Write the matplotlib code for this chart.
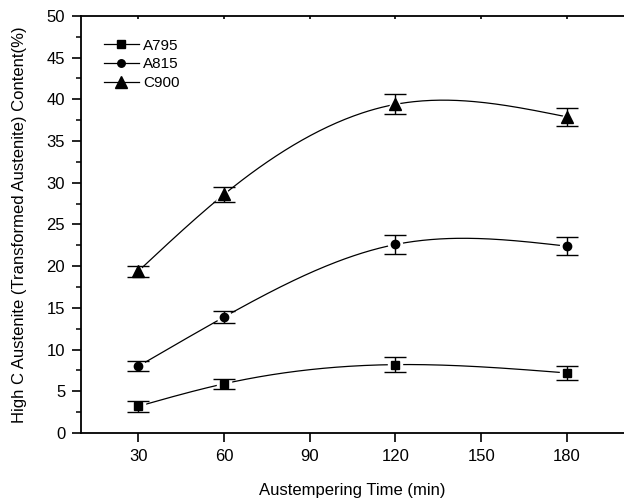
import numpy as np
import matplotlib
matplotlib.use("Agg")
import matplotlib.pyplot as plt
from matplotlib.ticker import MultipleLocator

plt.rcParams['font.family'] = ['Liberation Sans', 'DejaVu Sans']

# austempering time (min)
times = [30, 60, 120, 180]

# high C austenite content (%) and error half-widths
a795 = [3.2, 5.9, 8.2, 7.2]
a795_err = [0.65, 0.6, 0.9, 0.8]
a815 = [8.0, 13.9, 22.6, 22.4]
a815_err = [0.6, 0.7, 1.15, 1.1]
c900 = [19.4, 28.6, 39.4, 37.9]
c900_err = [0.65, 0.85, 1.2, 1.1]

series = [("A795", a795, a795_err, "s", 6),
          ("A815", a815, a815_err, "o", 6),
          ("C900", c900, c900_err, "^", 9)]


def smooth(x, y, n=200):
    # natural cubic spline through the points (origin style connector)
    x = np.asarray(x, float)
    y = np.asarray(y, float)
    k = len(x)
    h = np.diff(x)
    A = np.zeros((k, k))
    r = np.zeros(k)
    A[0, 0] = A[-1, -1] = 1
    for i in range(1, k - 1):
        A[i, i - 1] = h[i - 1]
        A[i, i] = 2 * (h[i - 1] + h[i])
        A[i, i + 1] = h[i]
        r[i] = 6 * ((y[i + 1] - y[i]) / h[i] - (y[i] - y[i - 1]) / h[i - 1])
    m = np.linalg.solve(A, r)
    xs = np.linspace(x[0], x[-1], n)
    ys = np.empty_like(xs)
    for j, t in enumerate(xs):
        i = min(np.searchsorted(x, t, side='right') - 1, k - 2)
        a = x[i + 1] - t
        b = t - x[i]
        ys[j] = (m[i] * a ** 3 / (6 * h[i]) + m[i + 1] * b ** 3 / (6 * h[i])
                 + (y[i] / h[i] - m[i] * h[i] / 6) * a
                 + (y[i + 1] / h[i] - m[i + 1] * h[i] / 6) * b)
    return xs, ys


fig = plt.figure(figsize=(6.24, 4.98), dpi=100)
ax = fig.add_axes([0.13, 0.1305, 0.87, 0.8375])

for name, vals, errs, mk, ms in series:
    xs, ys = smooth(times, vals)
    ax.plot(xs, ys, color="black", lw=0.9, zorder=1)
    # white halo so the curve stops short of each marker
    ax.plot(times, vals, ls="none", marker=mk, ms=ms + 4, color="white",
            mec="white", zorder=2)
    ax.errorbar(times, vals, yerr=errs, fmt="none", ecolor="black",
                elinewidth=1.0, capsize=8, capthick=1.0, zorder=3)
    ax.plot(times, vals, ls="none", marker=mk, ms=ms, color="black", zorder=4)
    ax.plot([], [], color="black", lw=0.9, marker=mk, ms=ms * 0.9, label=name)

ax.set_xlim(10, 200)
ax.set_ylim(0, 50)
ax.set_xticks([30, 60, 90, 120, 150, 180])
ax.yaxis.set_major_locator(MultipleLocator(5))
ax.yaxis.set_minor_locator(MultipleLocator(2.5))

ax.spines['right'].set_visible(False)
for s in ['left', 'bottom', 'top']:
    ax.spines[s].set_linewidth(1.3)

ax.tick_params(axis='both', which='major', direction='out', length=6.5,
               width=1.2, labelsize=12, pad=5)
ax.tick_params(axis='y', which='minor', direction='out', length=3.5, width=1.1)
ax.tick_params(axis='x', top=True, labeltop=False)
ax.tick_params(axis='x', which='major', top=True, direction='out')
ax.xaxis.set_tick_params(which='major', top=True)
for t in ax.xaxis.get_major_ticks():
    t.tick2line.set_markersize(2.5)
    t.tick2line.set_marker(3)  # pointing down into the plot

ax.set_xlabel("Austempering Time (min)", fontsize=12, labelpad=14)
ax.set_ylabel("High C Austenite (Transformed Austenite) Content(%)",
              fontsize=12, labelpad=14)

ax.legend(loc="upper left", frameon=False, fontsize=11, handlelength=2.3,
          handletextpad=0.3, labelspacing=0.3, borderaxespad=0.0,
          bbox_to_anchor=(0.03, 0.96))

fig.savefig("out.png", dpi=100)
